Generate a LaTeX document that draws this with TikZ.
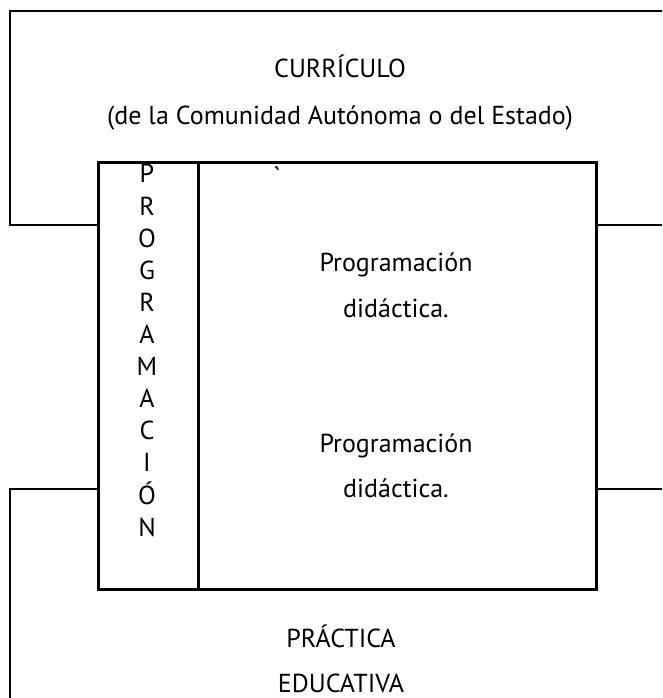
\documentclass[tikz,border=0pt]{standalone}
\usepackage{fontspec}
\setmainfont{PT Sans}
\tikzset{
    frame/.style={line width=2pt},
    txt/.style={inner sep=0pt, anchor=base, font=\fontsize{19.5}{23}\selectfont},
    col/.style={draw, line width=2pt, minimum width=75pt, minimum height=320.25pt, inner sep=0pt, anchor=north west},
    body/.style={draw, line width=2pt, minimum width=298.5pt, minimum height=320.25pt, inner sep=0pt, anchor=north west}
}
\begin{document}
\begin{tikzpicture}[x=0.75pt, y=-0.75pt]
    \useasboundingbox (0,0) rectangle (662,698);
    \node[col] (vert) at (97,161) {};
    \node[body] (main) at (197,161) {};
    \coordinate (tr) at (662,11);
    \coordinate (tl) at (10,11);
    \coordinate (lt) at (10,225);
    \coordinate (rt) at (662,225);
    \coordinate (lb) at (10,489);
    \coordinate (bl) at (10,698);
    \coordinate (rb) at (662,489);
    \draw[frame] (tr) -- (tl) -- (lt) -- (lt -| vert.west);
    \draw[frame] (rt -| main.east) -- (rt);
    \draw[frame] (bl) -- (lb) -- (lb -| vert.west);
    \draw[frame] (rb -| main.east) -- (rb);
    \node[txt] (cur) at (340,78) {CURRÍCULO};
    \node[txt] (ca) at (340,125) {(de la Comunidad Autónoma o del Estado)};
    \node[txt] (tick) at (277,186) {\textasciigrave};
    \node[txt] (pa) at (396,272) {Programación};
    \node[txt] (da) at (396,317) {didáctica.};
    \node[txt] (pb) at (396,452) {Programación};
    \node[txt] (db) at (396,497) {didáctica.};
    \foreach \i/\l in {0/P, 1/R, 2/O, 3/G, 4/R, 5/A, 6/M, 7/A, 8/C, 9/I, 10/Ó, 11/N} {
        \node[txt] (l\i) at (147,183+32.1*\i) {\l};
    }
    \node[txt] (pr) at (341,647) {PRÁCTICA};
    \node[txt] (ed) at (341,692) {EDUCATIVA};
\end{tikzpicture}
\end{document}
